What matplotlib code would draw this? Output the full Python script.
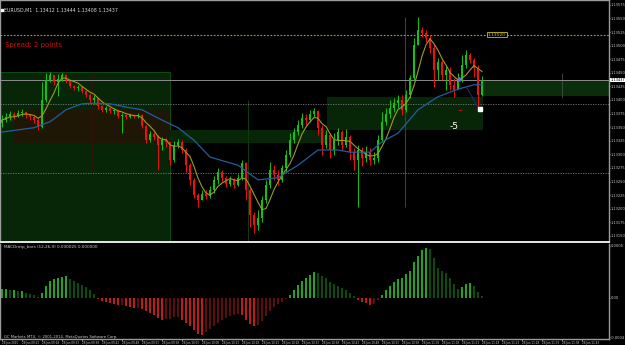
import matplotlib
matplotlib.use("Agg")
import matplotlib.pyplot as plt
import numpy as np
import pandas as pd
from matplotlib.patches import Rectangle

# EURUSD M1 candles (prices)
first_open = 1.13358
closes = [1.13363, 1.13369, 1.13374, 1.13371, 1.13376, 1.13378, 1.13372, 1.13369, 1.13363, 1.13350,
          1.13400, 1.13437, 1.13446, 1.13433, 1.13439, 1.13446, 1.13437, 1.13426, 1.13422, 1.13424,
          1.13417, 1.13409, 1.13400, 1.13404, 1.13389, 1.13382, 1.13385, 1.13380, 1.13382, 1.13371,
          1.13372, 1.13369, 1.13372, 1.13371, 1.13372, 1.13352, 1.13326, 1.13337, 1.13332, 1.13317,
          1.13326, 1.13323, 1.13290, 1.13317, 1.13323, 1.13308, 1.13280, 1.13253, 1.13225, 1.13216,
          1.13227, 1.13223, 1.13234, 1.13253, 1.13268, 1.13257, 1.13245, 1.13253, 1.13244, 1.13257,
          1.13284, 1.13234, 1.13188, 1.13170, 1.13183, 1.13216, 1.13244, 1.13271, 1.13262, 1.13253,
          1.13275, 1.13299, 1.13326, 1.13341, 1.13354, 1.13367, 1.13363, 1.13374, 1.13380, 1.13349,
          1.13317, 1.13336, 1.13308, 1.13326, 1.13341, 1.13317, 1.13332, 1.13304, 1.13290, 1.13308,
          1.13293, 1.13304, 1.13290, 1.13293, 1.13326, 1.13360, 1.13374, 1.13385, 1.13394, 1.13400,
          1.13382, 1.13409, 1.13441, 1.13501, 1.13529, 1.13523, 1.13514, 1.13496, 1.13455, 1.13470,
          1.13446, 1.13455, 1.13428, 1.13418, 1.13437, 1.13464, 1.13483, 1.13474, 1.13459, 1.13409,
          1.13437]
highs = [1.13372, 1.13376, 1.13380, 1.13378, 1.13382, 1.13383, 1.13380, 1.13374, 1.13371, 1.13367,
         1.13433, 1.13450, 1.13452, 1.13444, 1.13448, 1.13450, 1.13448, 1.13439, 1.13428, 1.13428,
         1.13426, 1.13418, 1.13411, 1.13409, 1.13400, 1.13391, 1.13389, 1.13387, 1.13385, 1.13382,
         1.13376, 1.13374, 1.13374, 1.13374, 1.13376, 1.13374, 1.13354, 1.13343, 1.13341, 1.13336,
         1.13332, 1.13330, 1.13323, 1.13325, 1.13328, 1.13326, 1.13312, 1.13284, 1.13257, 1.13229,
         1.13234, 1.13234, 1.13242, 1.13260, 1.13275, 1.13271, 1.13260, 1.13260, 1.13257, 1.13264,
         1.13290, 1.13286, 1.13238, 1.13194, 1.13198, 1.13223, 1.13253, 1.13286, 1.13280, 1.13271,
         1.13280, 1.13308, 1.13339, 1.13349, 1.13363, 1.13376, 1.13374, 1.13382, 1.13385, 1.13382,
         1.13354, 1.13345, 1.13339, 1.13339, 1.13349, 1.13345, 1.13347, 1.13336, 1.13312, 1.13317,
         1.13314, 1.13315, 1.13312, 1.13304, 1.13336, 1.13378, 1.13385, 1.13400, 1.13404, 1.13409,
         1.13409, 1.13418, 1.13446, 1.13514, 1.13553, 1.13534, 1.13529, 1.13520, 1.13501, 1.13477,
         1.13474, 1.13463, 1.13461, 1.13441, 1.13450, 1.13483, 1.13492, 1.13487, 1.13477, 1.13464,
         1.13444]
lows = [1.13350, 1.13360, 1.13363, 1.13365, 1.13369, 1.13371, 1.13367, 1.13363, 1.13358, 1.13345,
        1.13349, 1.13396, 1.13433, 1.13428, 1.13407, 1.13435, 1.13431, 1.13422, 1.13418, 1.13417,
        1.13413, 1.13406, 1.13394, 1.13393, 1.13383, 1.13378, 1.13378, 1.13376, 1.13374, 1.13367,
        1.13339, 1.13365, 1.13367, 1.13367, 1.13367, 1.13349, 1.13321, 1.13323, 1.13326, 1.13271,
        1.13308, 1.13314, 1.13280, 1.13286, 1.13312, 1.13303, 1.13268, 1.13244, 1.13220, 1.13203,
        1.13216, 1.13218, 1.13220, 1.13229, 1.13245, 1.13249, 1.13240, 1.13242, 1.13238, 1.13242,
        1.13253, 1.13216, 1.13166, 1.13155, 1.13161, 1.13175, 1.13210, 1.13238, 1.13253, 1.13244,
        1.13249, 1.13268, 1.13295, 1.13321, 1.13336, 1.13349, 1.13354, 1.13360, 1.13369, 1.13336,
        1.13299, 1.13312, 1.13293, 1.13299, 1.13317, 1.13308, 1.13314, 1.13290, 1.13271, 1.13203,
        1.13279, 1.13286, 1.13280, 1.13282, 1.13286, 1.13323, 1.13354, 1.13367, 1.13378, 1.13385,
        1.13372, 1.13378, 1.13404, 1.13437, 1.13501, 1.13516, 1.13507, 1.13487, 1.13424, 1.13437,
        1.13437, 1.13418, 1.13418, 1.13406, 1.13422, 1.13433, 1.13459, 1.13468, 1.13442, 1.13382,
        1.13408]

# slow moving average (blue), sampled along the line
ma_slow_bars = [0, 8, 12, 16, 20, 23, 27, 31, 35, 40, 44, 48, 52, 59, 64, 69, 74, 79,
                84, 87, 92, 95, 99, 104, 109, 114, 118, 120]
ma_slow_vals = [1.13341, 1.13349, 1.13360, 1.13382, 1.13393, 1.13394, 1.13393, 1.13387,
                1.13382, 1.13363, 1.13349, 1.13326, 1.13295, 1.13280, 1.13253, 1.13257,
                1.13280, 1.13308, 1.13308, 1.13304, 1.13304, 1.13323, 1.13339, 1.13382,
                1.13406, 1.13420, 1.13428, 1.13428]

# MACD histogram, in units of 0.00001
macd_hist_pts = [9, 9, 8, 8, 7, 7, 5, 4, 3, 1, 5, 12, 17, 19, 20, 21, 22, 19, 17, 15,
                 13, 11, 8, 4, -1, -3, -4, -5, -6, -7, -7, -8, -9, -10, -10, -11, -13, -15, -17, -20,
                 -22, -21, -21, -19, -19, -22, -25, -28, -32, -36, -37, -34, -31, -28, -25, -22, -20, -18, -17, -16,
                 -17, -22, -26, -28, -27, -23, -18, -13, -9, -6, -4, -1, 3, 8, 13, 17, 20, 23, 26, 25,
                 22, 20, 16, 14, 12, 10, 8, 5, 2, -2, -4, -5, -7, -6, -2, 3, 8, 12, 16, 19,
                 20, 24, 27, 36, 42, 48, 50, 49, 40, 30, 27, 25, 20, 14, 9, 11, 14, 15, 12, 6, 2]

time_label_bars = [0, 5, 10, 15, 20, 25, 30, 35, 40, 45, 50, 55, 60, 65, 70, 75, 80, 85, 90,
                   95, 100, 105, 110, 115, 120, 125, 130, 135, 140, 145]
time_labels = ["28 Jan 2015", "28 Jan 09:23", "28 Jan 09:28", "28 Jan 09:33", "28 Jan 09:38",
               "28 Jan 09:43", "28 Jan 09:48", "28 Jan 09:53", "28 Jan 09:58", "28 Jan 10:03",
               "28 Jan 10:08", "28 Jan 10:13", "28 Jan 10:18", "28 Jan 10:23", "28 Jan 10:28",
               "28 Jan 10:33", "28 Jan 10:38", "28 Jan 10:43", "28 Jan 10:48", "28 Jan 10:53",
               "28 Jan 10:58", "28 Jan 11:03", "28 Jan 11:08", "28 Jan 11:13", "28 Jan 11:18",
               "28 Jan 11:23", "28 Jan 11:28", "28 Jan 11:33", "28 Jan 11:38", "28 Jan 11:43"]

bid = closes[-1]
yellow_level = 1.13520
gray_levels = [1.13393, 1.13266]

BG = "black"
GRID = "#7a7a7a"
UP = "#12c412"
DN = "#f01010"
TXT = "#c8c8c8"

idx = np.arange(len(closes))
opens = [first_open] + closes[:-1]
fast_ma = pd.Series(closes).rolling(5, min_periods=1).mean()

W, H = 625, 345
right = 609
fig = plt.figure(figsize=(6.25, 3.45), dpi=100, facecolor=BG)
ax = fig.add_axes([0.0, 103 / H, right / W, 242 / H], facecolor=BG)
ax2 = fig.add_axes([0.0, 6 / H, right / W, 95.5 / H], facecolor=BG)

xmin, xmax = -0.5, 151.75
ymin, ymax = 1.131387, 1.13584

# zones
ax.add_patch(Rectangle((xmin, ymin), 42.5, 1.13452 - ymin, fc="#072607", ec="#0f4a0f", lw=0.8, zorder=0))
ax.add_patch(Rectangle((3, 1.13321), 39, 1.13381 - 1.13321, fc="#1f1705", ec="none", zorder=0.5))
ax.add_patch(Rectangle((42, 1.13321), 39.25, 1.13345 - 1.13321, fc="#072607", ec="none", zorder=0))
ax.add_patch(Rectangle((81.25, 1.13345), 39, 1.13406 - 1.13345, fc="#072607", ec="none", zorder=0))
ax.add_patch(Rectangle((120.25, 1.13407), xmax - 120.25, bid - 1.13407, fc="#0a2e0a", ec="none", zorder=0))

# vertical markers
ax.vlines(22.5, 1.13269, 1.13452, color="#3a1010", lw=0.6, zorder=0.6)
ax.vlines(61.5, ymin, 1.13400, color="#0f3a0f", lw=0.8, zorder=0.6)
ax.vlines(100.75, 1.13203, 1.13553, color="#1c5a1c", lw=0.7, zorder=0.6)
ax.vlines(140, 1.13404, 1.13450, color="#555555", lw=0.5, zorder=0.6)

# horizontal levels
ax.axhline(yellow_level, color="#a8a820", lw=0.8, ls=(0, (1.5, 1.5)), zorder=1)
for lv in gray_levels:
    ax.axhline(lv, color=GRID, lw=0.6, ls=(0, (1.5, 1.5)), zorder=1)
ax.axhline(bid, color="#8c8c8c", lw=0.7, zorder=1)

# candles
col = [UP if c >= o else DN for o, c in zip(opens, closes)]
ax.vlines(idx, lows, highs, colors=col, lw=0.7, zorder=2)
body = [max(abs(c - o), 0.000012) for o, c in zip(opens, closes)]
bot = [min(o, c) for o, c in zip(opens, closes)]
ax.bar(idx, body, bottom=bot, width=0.6, color=col, lw=0, zorder=3)

# moving averages
ax.plot(idx, fast_ma, color="#a09a20", lw=0.8, zorder=4)
ax.plot(ma_slow_bars, ma_slow_vals, color="#1f5f9f", lw=0.9, zorder=4)

# small chart objects
ax.plot([116.25, 119], [1.13422, 1.13387], color="#1a2f7a", lw=0.7, zorder=5)
ax.plot(114.25, 1.13439, "o", ms=2.2, color="#7a6ac8", zorder=5)
ax.plot(114.5, 1.13382, "_", ms=3, color="#a01010", zorder=5)
ax.plot(119.5, 1.13383, "s", ms=2.2, color="white", zorder=5)
ax.text(113, 1.13352, "-5", color="white", fontsize=6.5, ha="center", va="center", zorder=6)
ax.text(121.5, yellow_level, "%.5f" % yellow_level, color="#c8c020", fontsize=3.2, va="center",
        bbox=dict(boxstyle="square,pad=0.15", fc="black", ec="#c8c020", lw=0.6), zorder=6)
ax.text(0.7, 1.13501, "Spread: 2 points", color="#d01010", fontsize=5, va="center", zorder=6)
ax.text(0.6, 1.13566, "EURUSD,M1  1.13412 1.13444 1.13408 1.13437", color="#d8d8d8",
        fontsize=3.4, va="center", zorder=6)
ax.plot(0.0, 1.13566, "s", ms=1.6, color="white", zorder=6)

ax.set_xlim(xmin, xmax)
ax.set_ylim(ymin, ymax)
ax.set_xticks([])
ax.yaxis.tick_right()
yt = np.arange(1.13150, 1.13576, 0.00025)
ax.set_yticks(yt)
ax.set_yticklabels(["%.5f" % v for v in yt])
ax.tick_params(axis="y", colors=TXT, labelsize=2.6, length=1, width=0.5, pad=0.5)
for s in ["left", "top", "right"]:
    ax.spines[s].set_color("#9a9a9a")
    ax.spines[s].set_linewidth(1.0)
ax.spines["bottom"].set_color("#e8e8e8")
ax.spines["bottom"].set_linewidth(1.4)

# bid label
ax.text(1.002, bid, "%.5f" % bid, transform=ax.get_yaxis_transform(), color="black",
        fontsize=2.6, va="center", ha="left", clip_on=False,
        bbox=dict(boxstyle="square,pad=0.1", fc="white", ec="none"), zorder=7)

# MACD histogram bars
h = np.array(macd_hist_pts) * 1e-5
d = np.diff(np.r_[h[0], h])
hcol = []
for v, dv in zip(h, d):
    if v >= 0:
        hcol.append("#23a523" if dv >= 0 else "#0d4a0d")
    else:
        hcol.append("#c01a1a" if dv < 0 else "#5c0d0d")
ax2.bar(idx, h, width=0.32, color=hcol, lw=0)
ax2.set_xlim(xmin, xmax)
ax2.set_ylim(-0.000413, 0.000547)
ax2.yaxis.tick_right()
ax2.set_yticks([-0.000395, 0.0, 0.000525])
ax2.set_yticklabels(["-0.0004", "0.00", "0.0005"])
ax2.tick_params(axis="y", colors=TXT, labelsize=2.6, length=1, width=0.5, pad=0.5)
ax2.set_xticks(time_label_bars)
ax2.set_xticklabels(time_labels, ha="left")
ax2.tick_params(axis="x", colors=TXT, labelsize=2.0, length=1.2, width=0.5, pad=0.4)
for s in ["left", "right", "bottom"]:
    ax2.spines[s].set_color("#9a9a9a")
    ax2.spines[s].set_linewidth(1.0)
ax2.spines["top"].set_visible(False)
ax2.text(0.5, 0.00051, "MACDmtp_bars (12,26,9) 0.000025 0.000000", color="#d0d0d0", fontsize=3.0,
         va="center")
ax2.text(0.5, -0.00039, "GC Markets MT4, \u00a9 2001-2014, MetaQuotes Software Corp.", color="#d0d0d0",
         fontsize=2.7, va="center")

fig.savefig("out.png", dpi=100, facecolor=BG)
